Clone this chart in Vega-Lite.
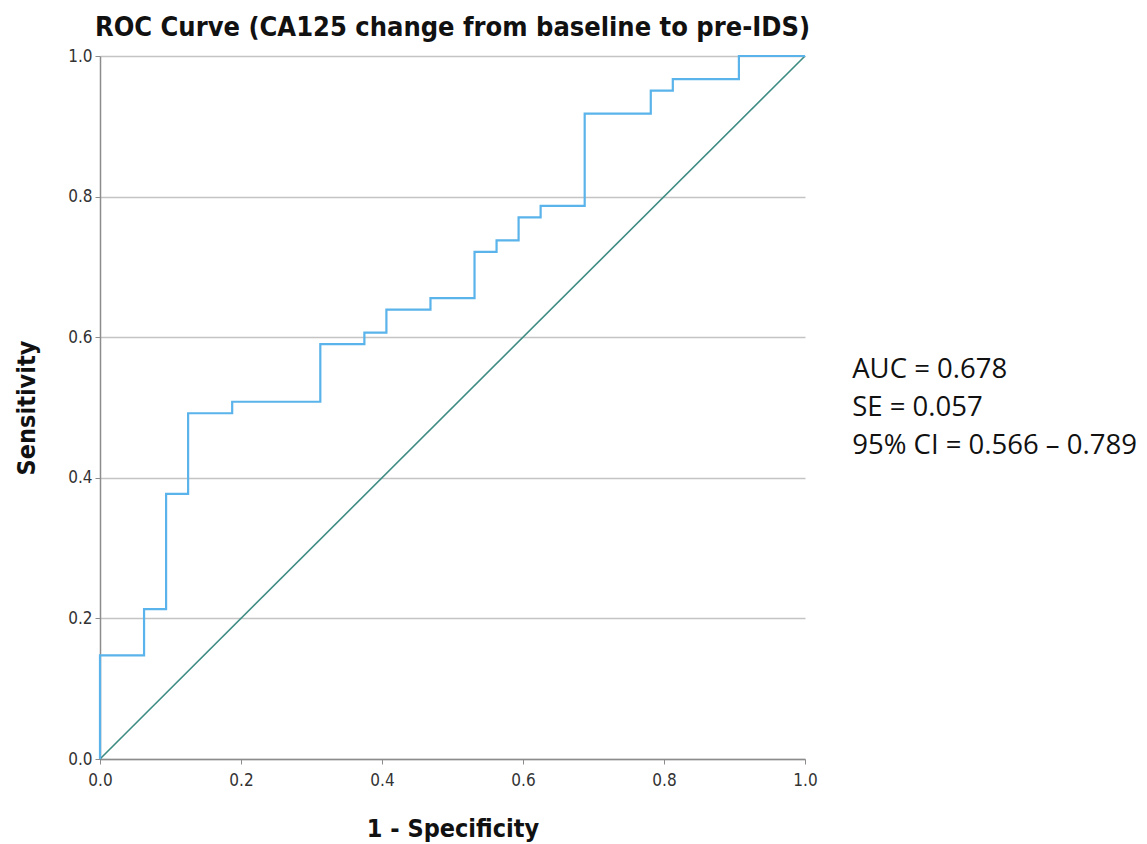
{
  "$schema": "https://vega.github.io/schema/vega-lite/v6.json",
  "autosize": {"type": "none"},
  "width": 705,
  "height": 703,
  "padding": {"left": 100, "top": 56, "right": 342, "bottom": 85},
  "background": "white",
  "config": {
    "view": {"stroke": null},
    "font": "DejaVu Sans Condensed",
    "axis": {
      "labelFont": "DejaVu Sans Condensed",
      "labelFontSize": 17,
      "labelColor": "#333333",
      "labelFlush": false,
      "titleFont": "DejaVu Sans Condensed",
      "titleFontSize": 25,
      "titleFontWeight": "bold",
      "titleColor": "#111111",
      "domainColor": "#8c8c8c",
      "domainWidth": 1.5,
      "ticks": true,
      "tickSize": 5,
      "tickColor": "#8c8c8c",
      "tickWidth": 1,
      "gridColor": "#c4c4c4",
      "gridWidth": 1.5
    }
  },
  "title": {
    "text": "ROC Curve (CA125 change from baseline to pre-IDS)",
    "font": "DejaVu Sans Condensed",
    "fontSize": 27,
    "fontWeight": "bold",
    "color": "#111111",
    "anchor": "middle",
    "offset": 5
  },
  "datasets": {
    "roc": [
      {"fpr": 0.0, "tpr": 0.0},
      {"fpr": 0.0, "tpr": 0.1475},
      {"fpr": 0.0625, "tpr": 0.2131},
      {"fpr": 0.09375, "tpr": 0.3770},
      {"fpr": 0.125, "tpr": 0.4918},
      {"fpr": 0.1875, "tpr": 0.5082},
      {"fpr": 0.3125, "tpr": 0.5902},
      {"fpr": 0.375, "tpr": 0.6066},
      {"fpr": 0.40625, "tpr": 0.6393},
      {"fpr": 0.46875, "tpr": 0.6557},
      {"fpr": 0.53125, "tpr": 0.7213},
      {"fpr": 0.5625, "tpr": 0.7377},
      {"fpr": 0.59375, "tpr": 0.7705},
      {"fpr": 0.625, "tpr": 0.7869},
      {"fpr": 0.6875, "tpr": 0.9180},
      {"fpr": 0.78125, "tpr": 0.9508},
      {"fpr": 0.8125, "tpr": 0.9672},
      {"fpr": 0.90625, "tpr": 1.0},
      {"fpr": 1.0, "tpr": 1.0}
    ],
    "ref": [
      {"fpr": 0.0, "tpr": 0.0},
      {"fpr": 1.0, "tpr": 1.0}
    ],
    "stats": [
      {"label": "AUC = 0.678", "x": 1.067, "y": 0.553},
      {"label": "SE = 0.057", "x": 1.067, "y": 0.499},
      {"label": "95% CI = 0.566 \u2013 0.789", "x": 1.067, "y": 0.445}
    ]
  },
  "layer": [
    {
      "data": {"name": "ref"},
      "mark": {"type": "line", "color": "#3f8c83", "strokeWidth": 1.6, "clip": false},
      "encoding": {
        "x": {
          "field": "fpr", "type": "quantitative",
          "scale": {"domain": [0, 1], "nice": false, "zero": false},
          "axis": {
            "title": "1 - Specificity",
            "values": [0, 0.2, 0.4, 0.6, 0.8, 1.0],
            "format": ".1f",
            "grid": false,
            "labelPadding": 8,
            "titlePadding": 28
          }
        },
        "y": {
          "field": "tpr", "type": "quantitative",
          "scale": {"domain": [0, 1], "nice": false, "zero": false},
          "axis": {
            "title": "Sensitivity",
            "values": [0, 0.2, 0.4, 0.6, 0.8, 1.0],
            "format": ".1f",
            "grid": true,
            "labelPadding": 3,
            "titlePadding": 28
          }
        }
      }
    },
    {
      "data": {"name": "roc"},
      "mark": {"type": "line", "interpolate": "step-after", "color": "#5ab3ea", "strokeWidth": 2.2, "clip": false},
      "encoding": {
        "x": {"field": "fpr", "type": "quantitative"},
        "y": {"field": "tpr", "type": "quantitative"}
      }
    },
    {
      "data": {"name": "stats"},
      "mark": {"type": "text", "align": "left", "baseline": "middle", "font": "Open Sans", "fontSize": 27.5, "color": "#111111", "clip": false},
      "encoding": {
        "x": {"field": "x", "type": "quantitative"},
        "y": {"field": "y", "type": "quantitative"},
        "text": {"field": "label"}
      }
    }
  ]
}
